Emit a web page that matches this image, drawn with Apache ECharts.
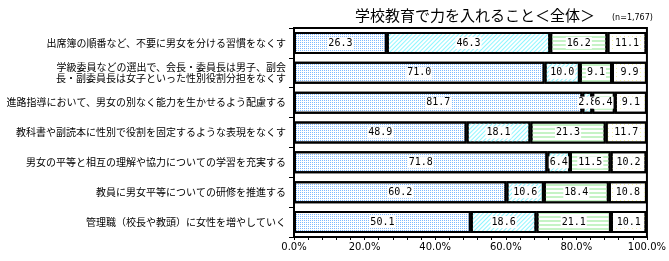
<!DOCTYPE html>
<html>
<head>
<meta charset="utf-8">
<script src="https://cdn.jsdelivr.net/npm/echarts@6/dist/echarts.min.js"></script>
<style>
  html, body { margin: 0; padding: 0; background: #fff; }
  #chart { width: 669px; height: 261px; }
</style>
</head>
<body>
<div id="chart"></div>
<script>
// 項目
var categories = [
  '出席簿の順番など、不要に男女を分ける習慣をなくす',
  '学級委員などの選出で、会長・委員長は男子、副会\n長・副委員長は女子といった性別役割分担をなくす',
  '進路指導において、男女の別なく能力を生かせるよう配慮する',
  '教科書や副読本に性別で役割を固定するような表現をなくす',
  '男女の平等と相互の理解や協力についての学習を充実する',
  '教員に男女平等についての研修を推進する',
  '管理職（校長や教頭）に女性を増やしていく'
];
// 各区分の割合(%)
var seg1 = [26.3, 71.0, 81.7, 48.9, 71.8, 60.2, 50.1];
var seg2 = [46.3, 10.0, 2.8, 18.1, 6.4, 10.6, 18.6];
var seg3 = [16.2, 9.1, 6.4, 21.3, 11.5, 18.4, 21.1];
var seg4 = [11.1, 9.9, 9.1, 11.7, 10.2, 10.8, 10.1];
var xTicks = [0, 20, 40, 60, 80, 100];

var myChart = echarts.init(document.getElementById('chart'));

// 模様
var decals = [
  { symbol: 'rect', symbolSize: 1, dashArrayX: [1, 1], dashArrayY: [1, 1], color: '#7db9ff' },
  { symbol: 'rect', symbolSize: 1, rotation: -Math.PI / 4, dashArrayX: [1, 0], dashArrayY: [1, 2], color: '#8ff6ff' },
  { symbol: 'rect', symbolSize: 1, dashArrayX: [1, 0], dashArrayY: [2, 2], color: '#c6f3c6' },
  { symbol: 'rect', symbolSize: 1, dashArrayX: [1, 3], dashArrayY: [1, 3], color: '#f2f2a8' }
];

function makeSeries(name, data, idx) {
  return {
    name: name,
    type: 'bar',
    stack: 'total',
    barWidth: 22,
    data: data,
    itemStyle: {
      color: '#ffffff',
      borderColor: '#000',
      borderWidth: 2,
      decal: decals[idx]
    },
    label: {
      show: true,
      position: 'inside',
      color: '#000',
      fontFamily: 'DejaVu Sans Mono',
      fontSize: 10,
      backgroundColor: '#fff',
      padding: [1, 1],
      formatter: function (p) { return p.value.toFixed(1); }
    },
    emphasis: { disabled: true }
  };
}

var option = {
  animation: false,
  title: [{
    text: '学校教育で力を入れること＜全体＞',
    left: 470,
    top: 3,
    textAlign: 'center',
    textStyle: { fontFamily: 'Noto Sans CJK JP', fontSize: 15, fontWeight: 'normal', color: '#000' }
  }, {
    text: '(n=1,767)',
    left: 607,
    top: 9,
    textStyle: { fontFamily: 'DejaVu Sans', fontSize: 8, fontWeight: 'normal', color: '#000' }
  }],
  grid: {
    left: 294,
    right: 18,
    top: 28,
    bottom: 24,
    show: true,
    borderColor: '#000',
    borderWidth: 2,
    containLabel: false
  },
  xAxis: {
    type: 'value',
    min: 0,
    max: 100,
    interval: 20,
    axisLine: { show: true, lineStyle: { color: '#000', width: 2 } },
    axisTick: { show: true, length: 3, lineStyle: { color: '#000', width: 1 } },
    minorTick: { show: true, splitNumber: 5, length: 3, lineStyle: { color: '#000', width: 1 } },
    splitLine: { show: false },
    axisLabel: {
      color: '#000',
      fontFamily: 'DejaVu Sans',
      fontSize: 10,
      margin: 5,
      formatter: function (v) { return xTicks.indexOf(v) >= 0 ? v.toFixed(1) + '%' : ''; }
    }
  },
  yAxis: {
    type: 'category',
    inverse: true,
    data: categories,
    axisLine: { show: true, lineStyle: { color: '#000', width: 2 } },
    axisTick: { show: true, length: 5, lineStyle: { color: '#000', width: 1 } },
    axisLabel: {
      color: '#000',
      fontFamily: 'Noto Sans CJK JP',
      fontSize: 10,
      lineHeight: 11,
      margin: 8,
      align: 'right'
    }
  },
  series: [
    makeSeries('A', seg1, 0),
    makeSeries('B', seg2, 1),
    makeSeries('C', seg3, 2),
    makeSeries('D', seg4, 3)
  ]
};

myChart.setOption(option);
</script>
</body>
</html>
